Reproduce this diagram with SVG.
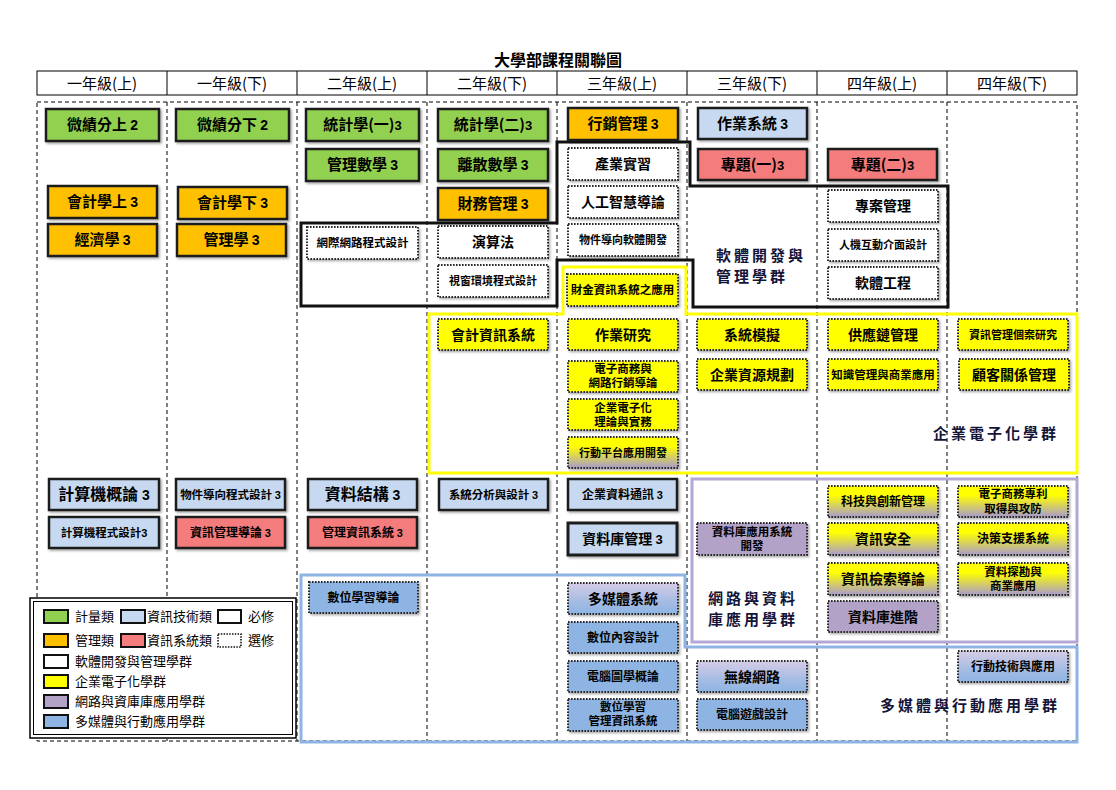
<svg xmlns="http://www.w3.org/2000/svg" width="1116" height="790" viewBox="0 0 1116 790">
<defs>
<filter id="sh" x="-10%" y="-20%" width="125%" height="150%"><feDropShadow dx="1.6" dy="1.6" stdDeviation="0.8" flood-color="#000" flood-opacity="0.35"/></filter>
<linearGradient id="gyp" x1="0" y1="0" x2="0" y2="1"><stop offset="0.3" stop-color="#FFFF00"/><stop offset="1" stop-color="#A99BCB"/></linearGradient>
<linearGradient id="gpm" x1="0" y1="0" x2="0" y2="1"><stop offset="0" stop-color="#D6CCE6"/><stop offset="0.6" stop-color="#A4BCE4"/><stop offset="1" stop-color="#8EB4E3"/></linearGradient>
<style>
.t{font-family:"Noto Sans CJK TC","Noto Sans CJK SC",sans-serif;font-weight:700;text-anchor:middle;fill:#000}
.n{font-family:"Liberation Sans",Arial,sans-serif;font-weight:700}
.req{stroke:#1e1e1e;stroke-width:2.5;filter:url(#sh)}
.opt{stroke:#2a2a2a;stroke-width:2;stroke-dasharray:1.6 1.4;filter:url(#sh)}
.g{fill:#92D050}.o{fill:#FFC000}.b{fill:#C6D9F1}.r{fill:#F47C7C}.w{fill:#fff}.y{fill:#FFFF00}.p{fill:#B3A2C7}.m{fill:#8EB4E3}.yp{fill:url(#gyp)}.pm{fill:url(#gpm)}
.grid{stroke:#000;stroke-width:1;stroke-dasharray:4 3;fill:none}
.hd{font-family:"Noto Sans CJK TC",sans-serif;font-size:15px;text-anchor:middle;fill:#000}
.lbl{font-family:"Noto Sans CJK TC",serif;font-size:15px;letter-spacing:3px;fill:#141438;font-weight:700}
.lg{font-family:"Noto Sans CJK TC",sans-serif;font-size:13px;fill:#000}
.sw{stroke:#111;stroke-width:2}
</style>
</defs>
<rect width="1116" height="790" fill="#fff"/>
<text x="558" y="66" class="t" font-size="16">大學部課程關聯圖</text>
<g id="header">
<rect x="37" y="71" width="1040" height="24" fill="#fff" stroke="#000" stroke-width="1"/>
<path d="M167 71V95M297 71V95M427 71V95M557 71V95M687 71V95M817 71V95M947 71V95" stroke="#000" stroke-width="1"/>
<text x="102" y="89" class="hd">一年級(上)</text>
<text x="232" y="89" class="hd">一年級(下)</text>
<text x="362" y="89" class="hd">二年級(上)</text>
<text x="492" y="89" class="hd">二年級(下)</text>
<text x="622" y="89" class="hd">三年級(上)</text>
<text x="752" y="89" class="hd">三年級(下)</text>
<text x="882" y="89" class="hd">四年級(上)</text>
<text x="1012" y="89" class="hd">四年級(下)</text>
</g>
<g id="grid">
<rect x="37" y="102" width="1040" height="639" class="grid"/>
<path class="grid" d="M167 102V741M297 102V741M427 102V741M557 102V741M687 102V741M817 102V741M947 102V741"/>
</g>
<g id="clusters" fill="none">
<path id="cluster-sw" d="M301 223H557V142H690V186H948V307H693V260H557V306H301Z" stroke="#111" stroke-width="3"/>
<path id="cluster-eb" d="M429 314H563V267H686V314H1077V473H429Z" stroke="#FFFF00" stroke-width="3"/>
<rect id="cluster-db" x="692" y="479" width="385" height="163" stroke="#B4A7D6" stroke-width="3"/>
<path id="cluster-mm" d="M301 575H685V647H1077V742H301Z" stroke="#8EB4E3" stroke-width="3"/>
</g>
<g id="connectors"/>
<g id="nodes">
<g id="c1"><rect x="46" y="109" width="113" height="32" class="g req"/><text x="102.5" y="130.4" class="t" font-size="15">微績分上 <tspan class="n" font-size="14">2</tspan></text></g>
<g id="c2"><rect x="48" y="186" width="109" height="32" class="o req"/><text x="102.5" y="207.4" class="t" font-size="15">會計學上 <tspan class="n" font-size="14">3</tspan></text></g>
<g id="c3"><rect x="48" y="224" width="109" height="32" class="o req"/><text x="102.5" y="245.4" class="t" font-size="15">經濟學 <tspan class="n" font-size="14">3</tspan></text></g>
<g id="c4"><rect x="49" y="479" width="110" height="31" class="b req"/><text x="104" y="500.3" class="t" font-size="16">計算機概論 <tspan class="n" font-size="14">3</tspan></text></g>
<g id="c5"><rect x="49" y="517" width="110" height="31" class="b req"/><text x="104" y="536.6" class="t" font-size="11.5">計算機程式設計<tspan class="n" font-size="11">3</tspan></text></g>
<g id="c6"><rect x="176" y="109" width="113" height="32" class="g req"/><text x="232.5" y="130.4" class="t" font-size="15">微績分下 <tspan class="n" font-size="14">2</tspan></text></g>
<g id="c7"><rect x="178" y="187" width="109" height="32" class="o req"/><text x="232.5" y="208.4" class="t" font-size="15">會計學下 <tspan class="n" font-size="14">3</tspan></text></g>
<g id="c8"><rect x="177" y="224" width="109" height="32" class="o req"/><text x="231.5" y="245.4" class="t" font-size="15">管理學 <tspan class="n" font-size="14">3</tspan></text></g>
<g id="c9"><rect x="176" y="479" width="109" height="31" class="b req"/><text x="230.5" y="498.6" class="t" font-size="11.5">物件導向程式設計 <tspan class="n" font-size="11">3</tspan></text></g>
<g id="c10"><rect x="176" y="517" width="109" height="31" class="r req"/><text x="230.5" y="536.8" class="t" font-size="12">資訊管理導論 <tspan class="n" font-size="11">3</tspan></text></g>
<g id="c11"><rect x="306" y="109" width="113" height="32" class="g req"/><text x="362.5" y="130.4" class="t" font-size="15">統計學(一)<tspan class="n" font-size="13">3</tspan></text></g>
<g id="c12"><rect x="306" y="149" width="113" height="32" class="g req"/><text x="362.5" y="170.4" class="t" font-size="15">管理數學 <tspan class="n" font-size="14">3</tspan></text></g>
<g id="c13"><rect x="307" y="227" width="111" height="32" class="w opt"/><text x="362.5" y="247.1" class="t" font-size="11.5">網際網路程式設計</text></g>
<g id="c14"><rect x="308" y="479" width="109" height="31" class="b req"/><text x="362.5" y="500.3" class="t" font-size="16">資料結構 <tspan class="n" font-size="14">3</tspan></text></g>
<g id="c15"><rect x="308" y="517" width="109" height="31" class="r req"/><text x="362.5" y="536.8" class="t" font-size="12">管理資訊系統 <tspan class="n" font-size="11">3</tspan></text></g>
<g id="c16"><rect x="309" y="582" width="109" height="31" class="m opt"/><text x="363.5" y="601.8" class="t" font-size="12">數位學習導論</text></g>
<g id="c17"><rect x="438" y="109" width="110" height="32" class="g req"/><text x="493" y="130.4" class="t" font-size="15">統計學(二)<tspan class="n" font-size="13">3</tspan></text></g>
<g id="c18"><rect x="438" y="149" width="110" height="32" class="g req"/><text x="493" y="170.4" class="t" font-size="15">離散數學 <tspan class="n" font-size="14">3</tspan></text></g>
<g id="c19"><rect x="438" y="188" width="110" height="32" class="o req"/><text x="493" y="209.4" class="t" font-size="15">財務管理 <tspan class="n" font-size="14">3</tspan></text></g>
<g id="c20"><rect x="438" y="226" width="110" height="32" class="w opt"/><text x="493" y="247" class="t" font-size="14">演算法</text></g>
<g id="c21"><rect x="438" y="265" width="110" height="32" class="w opt"/><text x="493" y="285" class="t" font-size="11">視窗環境程式設計</text></g>
<g id="c22"><rect x="438" y="319" width="110" height="31" class="y opt"/><text x="493" y="339.5" class="t" font-size="14">會計資訊系統</text></g>
<g id="c23"><rect x="439" y="479" width="109" height="31" class="b req"/><text x="493.5" y="498.6" class="t" font-size="11.5">系統分析與設計 <tspan class="n" font-size="11">3</tspan></text></g>
<g id="c24"><rect x="568" y="108" width="110" height="32" class="o req"/><text x="623" y="129.4" class="t" font-size="15">行銷管理 <tspan class="n" font-size="14">3</tspan></text></g>
<g id="c25"><rect x="568" y="148" width="110" height="32" class="w opt"/><text x="623" y="169" class="t" font-size="14">產業實習</text></g>
<g id="c26"><rect x="568" y="186" width="110" height="32" class="w opt"/><text x="623" y="207" class="t" font-size="14">人工智慧導論</text></g>
<g id="c27"><rect x="568" y="224" width="110" height="32" class="w opt"/><text x="623" y="244" class="t" font-size="11">物件導向軟體開發</text></g>
<g id="c28"><rect x="567" y="274" width="111" height="32" class="y opt"/><text x="622.5" y="294.1" class="t" font-size="11.5">財金資訊系統之應用</text></g>
<g id="c29"><rect x="568" y="319" width="110" height="31" class="y opt"/><text x="623" y="339.5" class="t" font-size="14">作業研究</text></g>
<g id="c30"><rect x="568" y="361" width="110" height="31" class="y opt"/><text class="t" font-size="11.5"><tspan x="623" y="372.8">電子商務與</tspan><tspan x="623" y="387.3">網路行銷導論</tspan></text></g>
<g id="c31"><rect x="568" y="399" width="110" height="31" class="y opt"/><text class="t" font-size="11.5"><tspan x="623" y="411.8">企業電子化</tspan><tspan x="623" y="426.3">理論與實務</tspan></text></g>
<g id="c32"><rect x="568" y="437" width="110" height="31" class="yp opt"/><text x="623" y="456.5" class="t" font-size="11">行動平台應用開發</text></g>
<g id="c33"><rect x="568" y="479" width="109" height="31" class="b req"/><text x="622.5" y="498.8" class="t" font-size="12">企業資料通訊 <tspan class="n" font-size="11">3</tspan></text></g>
<g id="c34"><rect x="568" y="523" width="109" height="32" class="b req" style="stroke-width:3"/><text x="622.5" y="544" class="t" font-size="14">資料庫管理 <tspan class="n" font-size="13">3</tspan></text></g>
<g id="c35"><rect x="568" y="583" width="110" height="31" class="pm opt"/><text x="623" y="603.5" class="t" font-size="14">多媒體系統</text></g>
<g id="c36"><rect x="568" y="622" width="110" height="31" class="m opt"/><text x="623" y="641.8" class="t" font-size="12">數位內容設計</text></g>
<g id="c37"><rect x="568" y="661" width="110" height="31" class="m opt"/><text x="623" y="680.8" class="t" font-size="12">電腦圖學概論</text></g>
<g id="c38"><rect x="568" y="699" width="110" height="32" class="m opt"/><text class="t" font-size="11.5"><tspan x="623" y="710.8">數位學習</tspan><tspan x="623" y="725.3">管理資訊系統</tspan></text></g>
<g id="c39"><rect x="698" y="108" width="109" height="31" class="b req"/><text x="752.5" y="128.9" class="t" font-size="15">作業系統 <tspan class="n" font-size="14">3</tspan></text></g>
<g id="c40"><rect x="698" y="149" width="109" height="31" class="r req"/><text x="752.5" y="169.9" class="t" font-size="15">專題(一)<tspan class="n" font-size="13">3</tspan></text></g>
<g id="c41"><rect x="697" y="319" width="110" height="31" class="y opt"/><text x="752" y="339.5" class="t" font-size="14">系統模擬</text></g>
<g id="c42"><rect x="697" y="359" width="110" height="31" class="y opt"/><text x="752" y="379.5" class="t" font-size="14">企業資源規劃</text></g>
<g id="c43"><rect x="697" y="523" width="110" height="32" class="p opt"/><text class="t" font-size="11.5"><tspan x="752" y="535.8">資料庫應用系統</tspan><tspan x="752" y="550.3">開發</tspan></text></g>
<g id="c44"><rect x="697" y="661" width="110" height="31" class="pm opt"/><text x="752" y="681.5" class="t" font-size="14">無線網路</text></g>
<g id="c45"><rect x="697" y="699" width="110" height="31" class="m opt"/><text x="752" y="718.8" class="t" font-size="12">電腦遊戲設計</text></g>
<g id="c46"><rect x="828" y="149" width="109" height="31" class="r req"/><text x="882.5" y="169.9" class="t" font-size="15">專題(二)<tspan class="n" font-size="13">3</tspan></text></g>
<g id="c47"><rect x="828" y="190" width="110" height="32" class="w opt"/><text x="883" y="211" class="t" font-size="14">專案管理</text></g>
<g id="c48"><rect x="828" y="229" width="110" height="32" class="w opt"/><text x="883" y="249" class="t" font-size="11">人機互動介面設計</text></g>
<g id="c49"><rect x="828" y="267" width="110" height="32" class="w opt"/><text x="883" y="288" class="t" font-size="14">軟體工程</text></g>
<g id="c50"><rect x="828" y="319" width="110" height="31" class="y opt"/><text x="883" y="339.5" class="t" font-size="14">供應鏈管理</text></g>
<g id="c51"><rect x="828" y="359" width="110" height="31" class="y opt"/><text x="883" y="378.6" class="t" font-size="11.5">知識管理與商業應用</text></g>
<g id="c52"><rect x="828" y="486" width="110" height="31" class="yp opt"/><text x="883" y="505.8" class="t" font-size="12">科技與創新管理</text></g>
<g id="c53"><rect x="828" y="523" width="110" height="32" class="yp opt"/><text x="883" y="544" class="t" font-size="14">資訊安全</text></g>
<g id="c54"><rect x="828" y="563" width="110" height="32" class="yp opt"/><text x="883" y="584" class="t" font-size="14">資訊檢索導論</text></g>
<g id="c55"><rect x="828" y="601" width="110" height="31" class="p opt"/><text x="883" y="621.5" class="t" font-size="14">資料庫進階</text></g>
<g id="c56"><rect x="958" y="319" width="110" height="31" class="y opt"/><text x="1013" y="338.5" class="t" font-size="11">資訊管理個案研究</text></g>
<g id="c57"><rect x="959" y="359" width="110" height="31" class="y opt"/><text x="1014" y="379.5" class="t" font-size="14">顧客關係管理</text></g>
<g id="c58"><rect x="958" y="486" width="110" height="31" class="yp opt"/><text class="t" font-size="11.5"><tspan x="1013" y="498.3">電子商務專利</tspan><tspan x="1013" y="512.8">取得與攻防</tspan></text></g>
<g id="c59"><rect x="958" y="523" width="110" height="32" class="yp opt"/><text x="1013" y="543.3" class="t" font-size="12">決策支援系統</text></g>
<g id="c60"><rect x="958" y="563" width="110" height="32" class="yp opt"/><text class="t" font-size="11.5"><tspan x="1013" y="575.8">資料探勘與</tspan><tspan x="1013" y="590.3">商業應用</tspan></text></g>
<g id="c61"><rect x="958" y="651" width="110" height="31" class="pm opt"/><text x="1013" y="670.8" class="t" font-size="12">行動技術與應用</text></g>
</g>
<g id="cluster-labels">
<text class="lbl"><tspan x="716" y="261">軟體開發與</tspan><tspan x="716" y="282">管理學群</tspan></text>
<text class="lbl" x="933" y="439">企業電子化學群</text>
<text class="lbl"><tspan x="708" y="604">網路與資料</tspan><tspan x="708" y="625">庫應用學群</tspan></text>
<text class="lbl" x="880" y="711">多媒體與行動應用學群</text>
</g>
<g id="legend">
<rect x="30" y="598" width="266" height="140" fill="#fff" stroke="#000" stroke-width="1.5"/>
<rect x="33.5" y="601.5" width="259" height="133" fill="none" stroke="#000" stroke-width="1"/>
<rect x="44" y="610" width="24" height="13" class="g sw"/><text x="75" y="621" class="lg">計量類</text>
<rect x="121" y="610" width="24" height="13" class="b sw"/><text x="147" y="621" class="lg">資訊技術類</text>
<rect x="218" y="610" width="23" height="13" class="w sw"/><text x="248" y="621" class="lg">必修</text>
<rect x="44" y="634" width="24" height="13" class="o sw"/><text x="75" y="645" class="lg">管理類</text>
<rect x="121" y="634" width="24" height="13" class="r sw"/><text x="147" y="645" class="lg">資訊系統類</text>
<rect x="218" y="634" width="23" height="13" class="w" stroke="#111" stroke-width="1.6" stroke-dasharray="1.5 1.3"/><text x="248" y="645" class="lg">選修</text>
<rect x="44" y="655" width="24" height="13" class="w sw"/><text x="75" y="666" class="lg">軟體開發與管理學群</text>
<rect x="44" y="675" width="24" height="13" class="y sw"/><text x="75" y="686" class="lg">企業電子化學群</text>
<rect x="44" y="695" width="24" height="13" class="p sw"/><text x="75" y="706" class="lg">網路與資庫庫應用學群</text>
<rect x="44" y="715" width="24" height="13" class="m sw"/><text x="75" y="726" class="lg">多媒體與行動應用學群</text>
</g>
</svg>
